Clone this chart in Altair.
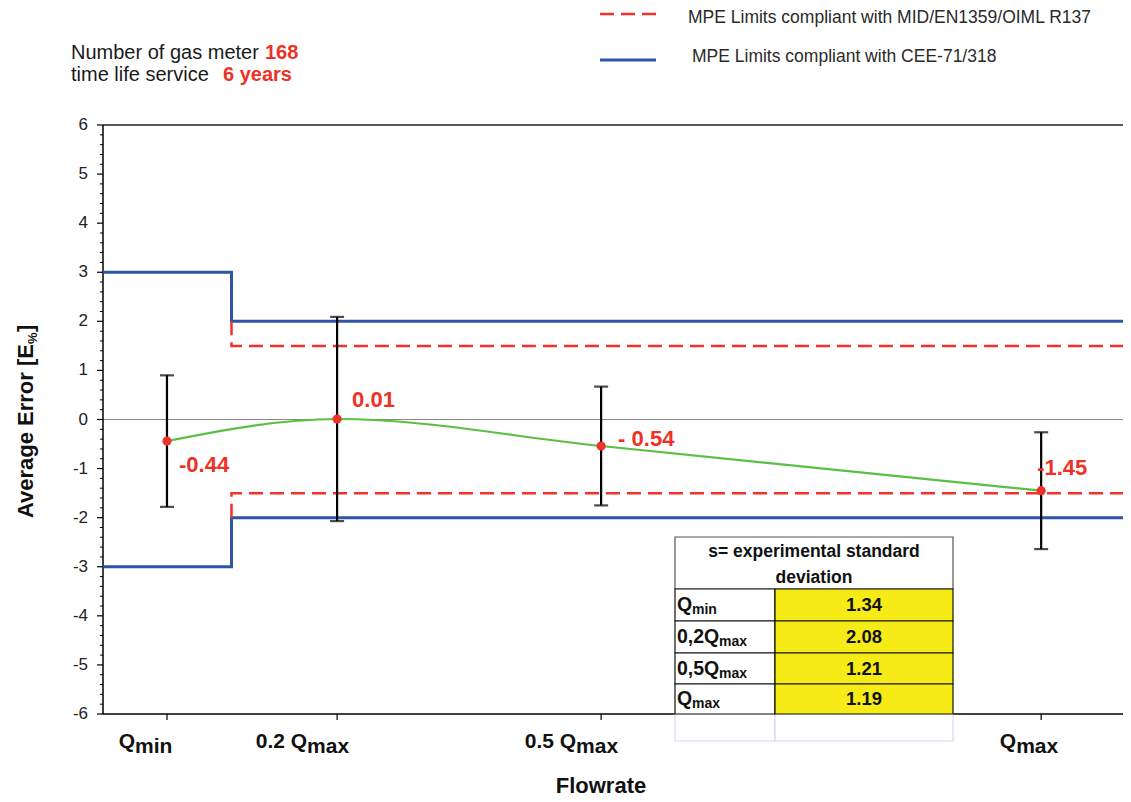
import altair as alt
import pandas as pd

# ---------------- data ----------------
FLOW_LABELS = ["Qmin", "0.2 Qmax", "0.5 Qmax", "Qmax"]
FLOW = [0.0067, 0.2, 0.5, 1.0]            # fraction of Qmax
MEAN_ERROR = [-0.44, 0.01, -0.54, -1.45]
STD_DEV = [1.34, 2.08, 1.21, 1.19]
VALUE_TEXT = ["-0.44", "0.01", "- 0.54", "-1.45"]
AXIS_PREFIX = ["Q", "0.2 Q", "0.5 Q", "Q"]
AXIS_SUB = ["min", "max", "max", "max"]
STEP_FLOW = 0.08
CEE_LOW_LIMIT = 3
CEE_LIMIT = 2
MID_LIMIT = 1.5
Y_TICKS = [-6, -5, -4, -3, -2, -1, 0, 1, 2, 3, 4, 5, 6]
Y_TICK_LABELS = ["-6", "-5", "-4", "-3", "-2", "-1", "0", "1", "2", "3", "4", "5", "6"]
TABLE_PREFIX = ["Q", "0,2Q", "0,5Q", "Q"]
TABLE_SUB = ["min", "max", "max", "max"]
TABLE_VALUES = ["1.34", "2.08", "1.21", "1.19"]
LEGEND_TEXT = ["MPE  Limits compliant with MID/EN1359/OIML R137",
               "MPE Limits compliant with CEE-71/318"]

# ---------------- layout ----------------
PL, PT, PB = 95, 117, 84
W, H = 1020, 589
X0, Y0 = 8 + PL, 8 + PT
XMIN, XMAX = -0.066, 1.093
YMIN, YMAX = -6, 6
FONT = "Liberation Sans"

BLUE = "#2F55A8"
RED = "#F0322A"
TXT_RED = "#EE3124"
GREEN = "#5BBE45"
YELLOW = "#F6EB16"


def inv_x(px):
    return XMIN + (px - X0) / W * (XMAX - XMIN)


def inv_y(py):
    return YMAX - (py - Y0) / H * (YMAX - YMIN)


def vx(px):
    return px - X0


def vy(py):
    return py - Y0


xs = alt.Scale(domain=[XMIN, XMAX], nice=False, zero=False)
ys = alt.Scale(domain=[YMIN, YMAX], nice=False, zero=False)
ONE = pd.DataFrame({"a": [0]})

df = pd.DataFrame({"flow": FLOW, "mean": MEAN_ERROR, "s": STD_DEV, "label": FLOW_LABELS})
base = alt.Chart(df).transform_calculate(lo="datum.mean - datum.s", hi="datum.mean + datum.s")

layers = []

# zero line
layers.append(alt.Chart(ONE).mark_rule(color="#888888", strokeWidth=1).encode(
    y=alt.YDatum(0, scale=ys, axis=None)))
# top border
layers.append(alt.Chart(ONE).mark_rule(color="#222222", strokeWidth=1.5).encode(
    y=alt.YDatum(YMAX, scale=ys, axis=None)))

# ---- axes drawn through the scales ----
layers.append(alt.Chart(ONE).mark_rule(color="black", strokeWidth=1.5).encode(
    x=alt.value(0), y=alt.value(0), y2=alt.value(H)))
layers.append(alt.Chart(ONE).mark_rule(color="black", strokeWidth=1.5).encode(
    y=alt.YDatum(YMIN, scale=ys, axis=None)))
minor = [round(YMIN + 0.2 * i, 1) for i in range(61) if i % 5]
layers.append(alt.Chart(pd.DataFrame({"v": minor})).mark_rule(color="black", strokeWidth=1).encode(
    y=alt.Y("v:Q", scale=ys, axis=None), x=alt.value(-3), x2=alt.value(0)))
ytk = pd.DataFrame({"v": Y_TICKS, "t": Y_TICK_LABELS})
layers.append(alt.Chart(ytk).mark_rule(color="black", strokeWidth=1.2).encode(
    y=alt.Y("v:Q", scale=ys, axis=None), x=alt.value(-6), x2=alt.value(0)))
layers.append(alt.Chart(ytk).mark_text(font=FONT, fontSize=17, color="#222222",
                                       align="right", baseline="middle").encode(
    y=alt.Y("v:Q", scale=ys, axis=None), x=alt.value(-15), text="t:N"))
layers.append(alt.Chart(df).mark_rule(color="black", strokeWidth=1.2).encode(
    x=alt.X("flow:Q", scale=xs, axis=None), y=alt.value(H), y2=alt.value(H + 6)))

# CEE limits (blue step)
blue_rows = []
for sign, g in [(1, "up"), (-1, "down")]:
    blue_rows += [{"g": g, "x": XMIN, "y": sign * CEE_LOW_LIMIT},
                  {"g": g, "x": STEP_FLOW, "y": sign * CEE_LIMIT},
                  {"g": g, "x": XMAX, "y": sign * CEE_LIMIT}]
layers.append(alt.Chart(pd.DataFrame(blue_rows)).mark_line(
    color=BLUE, strokeWidth=3, interpolate="step-after").encode(
    x=alt.X("x:Q", scale=xs, axis=None), y=alt.Y("y:Q", scale=ys, axis=None), detail="g:N"))

# MID limits (red dashed)
red_rows = []
for sign, g in [(1, "up"), (-1, "down")]:
    red_rows += [{"g": g, "i": 0, "x": STEP_FLOW, "y": sign * CEE_LIMIT},
                 {"g": g, "i": 1, "x": STEP_FLOW, "y": sign * MID_LIMIT},
                 {"g": g, "i": 2, "x": XMAX, "y": sign * MID_LIMIT}]
layers.append(alt.Chart(pd.DataFrame(red_rows)).mark_line(
    color=RED, strokeWidth=2.5, strokeDash=[14, 7]).encode(
    x=alt.X("x:Q", scale=xs, axis=None), y=alt.Y("y:Q", scale=ys, axis=None),
    detail="g:N", order="i:Q"))

# green trend line
layers.append(base.mark_line(color=GREEN, strokeWidth=2.2, interpolate="monotone").encode(
    x=alt.X("flow:Q", scale=xs, axis=None), y=alt.Y("mean:Q", scale=ys, axis=None)))

# error bars
layers.append(base.mark_rule(color="black", strokeWidth=2.2).encode(
    x=alt.X("flow:Q", scale=xs, axis=None), y=alt.Y("lo:Q", scale=ys, axis=None), y2="hi:Q"))
for f in ["lo", "hi"]:
    layers.append(base.mark_tick(color="black", orient="horizontal", size=14, thickness=2.2).encode(
        x=alt.X("flow:Q", scale=xs, axis=None), y=alt.Y(f + ":Q", scale=ys, axis=None)))

# points
layers.append(base.mark_circle(color=RED, size=85, opacity=1).encode(
    x=alt.X("flow:Q", scale=xs, axis=None), y=alt.Y("mean:Q", scale=ys, axis=None)))

# value labels
VAL_DX = [12, 15, 17, -4]
VAL_DY = [24, -19, -7, -23]
for i in range(4):
    d = pd.DataFrame({"flow": [FLOW[i]], "mean": [MEAN_ERROR[i]], "t": [VALUE_TEXT[i]]})
    layers.append(alt.Chart(d).mark_text(
        font=FONT, fontSize=22, fontWeight="bold", color=TXT_RED, align="left",
        baseline="middle", dx=VAL_DX[i], dy=VAL_DY[i]).encode(
        x=alt.X("flow:Q", scale=xs, axis=None), y=alt.Y("mean:Q", scale=ys, axis=None),
        text="t:N"))

# ---------------- table ----------------
TB_L, TB_M, TB_R = 675, 775, 953
TB_HEAD_TOP, TB_HEAD_BOT = 537, 589
TB_ROWS = [589, 621, 653, 684, 714]
TB_FAINT_BOT = 741
cells = [{"x1": inv_x(TB_L), "x2": inv_x(TB_R), "y1": inv_y(TB_HEAD_TOP), "y2": inv_y(TB_HEAD_BOT),
          "fill": "white", "stroke": "#555555"}]
for i in range(4):
    cells.append({"x1": inv_x(TB_L), "x2": inv_x(TB_M), "y1": inv_y(TB_ROWS[i]),
                  "y2": inv_y(TB_ROWS[i + 1]), "fill": "white", "stroke": "#111111"})
    cells.append({"x1": inv_x(TB_M), "x2": inv_x(TB_R), "y1": inv_y(TB_ROWS[i]),
                  "y2": inv_y(TB_ROWS[i + 1]), "fill": YELLOW, "stroke": "#111111"})
faint = [{"x1": inv_x(TB_L), "x2": inv_x(TB_M), "y1": inv_y(TB_ROWS[-1]), "y2": inv_y(TB_FAINT_BOT),
          "fill": "white", "stroke": "#D8D8F0"},
         {"x1": inv_x(TB_M), "x2": inv_x(TB_R), "y1": inv_y(TB_ROWS[-1]), "y2": inv_y(TB_FAINT_BOT),
          "fill": "white", "stroke": "#D8D8F0"}]
for c in [faint, cells]:
    layers.append(alt.Chart(pd.DataFrame(c)).mark_rect(strokeWidth=1.2).encode(
        x=alt.X("x1:Q", scale=xs, axis=None), x2="x2:Q",
        y=alt.Y("y1:Q", scale=ys, axis=None), y2="y2:Q",
        fill=alt.Fill("fill:N", scale=None), stroke=alt.Stroke("stroke:N", scale=None)))

centers = [(TB_ROWS[i] + TB_ROWS[i + 1]) / 2 for i in range(4)]
sub_px = [692, 719, 719, 692]
trows = pd.DataFrame({
    "yc": [inv_y(c) for c in centers],
    "px": [inv_x(TB_L + 2)] * 4,
    "sx": [inv_x(p) for p in sub_px],
    "vx": [inv_x((TB_M + TB_R) / 2)] * 4,
    "pre": TABLE_PREFIX, "sub": TABLE_SUB, "val": TABLE_VALUES})
tb = alt.Chart(trows)
layers.append(tb.mark_text(font=FONT, fontSize=19.5, fontWeight="bold", color="#111111",
                           align="left", baseline="middle").encode(
    x=alt.X("px:Q", scale=xs, axis=None), y=alt.Y("yc:Q", scale=ys, axis=None), text="pre:N"))
layers.append(tb.mark_text(font=FONT, fontSize=14, fontWeight="bold", color="#111111",
                           align="left", baseline="middle", dy=5).encode(
    x=alt.X("sx:Q", scale=xs, axis=None), y=alt.Y("yc:Q", scale=ys, axis=None), text="sub:N"))
layers.append(tb.mark_text(font=FONT, fontSize=18.5, fontWeight="bold", color="#111111",
                           align="center", baseline="middle").encode(
    x=alt.X("vx:Q", scale=xs, axis=None), y=alt.Y("yc:Q", scale=ys, axis=None), text="val:N"))

HEADER = ["s= experimental standard", "deviation"]
for t, yy in zip(HEADER, [552, 578]):
    layers.append(alt.Chart(ONE).mark_text(
        text=t, font=FONT, fontSize=17.5, fontWeight="bold", color="#111111",
        align="center", baseline="middle").encode(
        x=alt.value(vx((TB_L + TB_R) / 2)), y=alt.value(vy(yy))))


# ---------------- annotations ----------------
def txt(t, px, py, size, weight="normal", color="#1A1A1A", align="left", baseline="alphabetic",
        angle=0, dy=0):
    kw = dict(text=t, font=FONT, fontSize=size, fontWeight=weight, color=color, align=align,
              baseline=baseline)
    if angle:
        kw["angle"] = angle
    if dy:
        kw["dy"] = dy
    return alt.Chart(ONE).mark_text(**kw).encode(x=alt.value(vx(px)), y=alt.value(vy(py)))


# top-left info
layers.append(txt("Number of gas meter", 71, 59, 20))
layers.append(txt("168", 265, 59, 20, weight="bold", color=TXT_RED))
layers.append(txt("time life service", 71, 81, 20))
layers.append(txt("6 years", 223, 81, 20, weight="bold", color=TXT_RED))

# legend
layers.append(alt.Chart(ONE).mark_rule(color=RED, strokeWidth=2.5, strokeDash=[14, 7]).encode(
    x=alt.value(vx(600)), x2=alt.value(vx(656)), y=alt.value(vy(14))))
layers.append(alt.Chart(ONE).mark_rule(color=BLUE, strokeWidth=3).encode(
    x=alt.value(vx(600)), x2=alt.value(vx(656)), y=alt.value(vy(60))))
layers.append(txt(LEGEND_TEXT[0], 688, 18, 17.5, color="#2A2A2A", baseline="middle"))
layers.append(txt(LEGEND_TEXT[1], 692, 57, 17.5, color="#2A2A2A", baseline="middle"))

# y title with subscript
layers.append(txt("Average Error [E", 33, 344, 22, weight="bold", color="#111111",
                  align="right", angle=270))
layers.append(txt("%", 33, 344, 13, weight="bold", color="#111111", angle=270, dy=4))
layers.append(txt("]", 33, 332, 22, weight="bold", color="#111111", angle=270))

# x title
layers.append(txt("Flowrate", 601, 793, 22, weight="bold", color="#111111", align="center"))

# x tick labels with subscripts
LABEL_DX = [-32, -30, -25, -25]
for i in range(4):
    d = pd.DataFrame({"flow": [FLOW[i]]})
    layers.append(alt.Chart(d).mark_text(
        text=AXIS_PREFIX[i], font=FONT, fontSize=21, fontWeight="bold", color="#111111",
        align="right", baseline="alphabetic", dx=LABEL_DX[i]).encode(
        x=alt.X("flow:Q", scale=xs, axis=None), y=alt.value(vy(748))))
    layers.append(alt.Chart(d).mark_text(
        text=AXIS_SUB[i], font=FONT, fontSize=21, fontWeight="bold", color="#111111",
        align="left", baseline="alphabetic", dx=LABEL_DX[i]).encode(
        x=alt.X("flow:Q", scale=xs, axis=None), y=alt.value(vy(753))))

chart = alt.layer(*layers).properties(
    width=W, height=H,
    padding={"left": PL, "top": PT, "right": 0, "bottom": PB},
    autosize=alt.AutoSizeParams(type="none"),
    background="white",
).configure_view(strokeWidth=0)

chart.save("out.html", embed_options={"renderer": "svg", "actions": False})
